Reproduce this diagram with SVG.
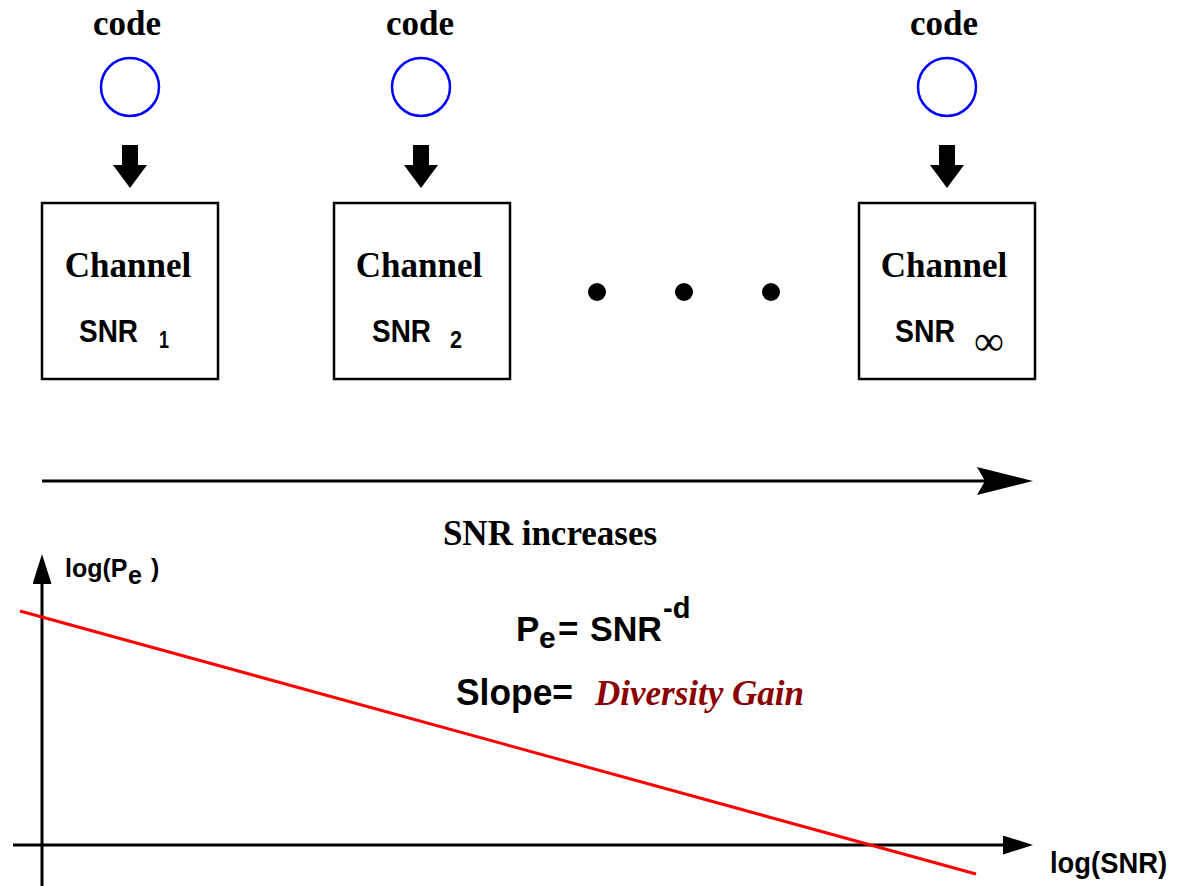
<svg xmlns="http://www.w3.org/2000/svg" width="1178" height="886" viewBox="0 0 1178 886">
<style>
.serif{font-family:"Liberation Serif","Times New Roman",serif;font-weight:bold;font-size:35px;fill:#000}
.sans{font-family:"Liberation Sans",Arial,sans-serif;font-weight:bold;fill:#000}
.box{fill:#fff;stroke:#000;stroke-width:2.5}
.code{fill:none;stroke:#0000ff;stroke-width:2.5}
.blk{fill:#000;stroke:none}
.ln{stroke:#000;stroke-width:3;fill:none}
</style>
<defs>
<marker id="big" markerUnits="userSpaceOnUse" markerWidth="56" markerHeight="28" viewBox="0 0 56 28" refX="13" refY="14" orient="auto">
<path d="M0,0 L56,14 L0,28 L8,14 Z" fill="#000"/>
</marker>
<marker id="axis" markerUnits="userSpaceOnUse" markerWidth="30" markerHeight="19" viewBox="0 0 30 19" refX="10" refY="9.5" orient="auto">
<path d="M0,0 L30,9.5 L0,19 Z" fill="#000"/>
</marker>
<path id="down" d="M-8,0 H8 V20 H17 L0,43 L-17,20 H-8 Z"/>
</defs>

<g id="code1">
<text class="serif" x="127" y="35" text-anchor="middle">code</text>
<circle class="code" cx="130" cy="87" r="29"/>
</g>
<g id="code2">
<text class="serif" x="420" y="35" text-anchor="middle">code</text>
<circle class="code" cx="421" cy="87" r="29"/>
</g>
<g id="code3">
<text class="serif" x="944" y="35" text-anchor="middle">code</text>
<circle class="code" cx="947" cy="87" r="29"/>
</g>

<g id="channel1">
<rect class="box" x="42" y="203" width="176" height="176"/>
<text class="serif" x="128" y="277" text-anchor="middle">Channel</text>
<text class="sans" x="79" y="342" font-size="32" textLength="59" lengthAdjust="spacingAndGlyphs">SNR</text>
<text class="sans" x="159" y="348" font-size="24" textLength="10" lengthAdjust="spacingAndGlyphs">1</text>
</g>
<g id="channel2">
<rect class="box" x="334" y="203" width="176" height="176"/>
<text class="serif" x="419" y="277" text-anchor="middle">Channel</text>
<text class="sans" x="372" y="342" font-size="32" textLength="59" lengthAdjust="spacingAndGlyphs">SNR</text>
<text class="sans" x="450" y="348" font-size="24" textLength="12" lengthAdjust="spacingAndGlyphs">2</text>
</g>
<g id="channel3">
<rect class="box" x="859" y="203" width="176" height="176"/>
<text class="serif" x="944" y="277" text-anchor="middle">Channel</text>
<text class="sans" x="895" y="342" font-size="32" textLength="60" lengthAdjust="spacingAndGlyphs">SNR</text>
<text x="974" y="355" font-family="Liberation Serif, serif" font-size="42" fill="#000">∞</text>
</g>

<g id="ellipsis">
<circle cx="597" cy="292" r="9" class="blk"/>
<circle cx="684" cy="292" r="9" class="blk"/>
<circle cx="771" cy="292" r="9" class="blk"/>
</g>

<g id="connectors">
<use href="#down" x="130" y="145" class="blk"/>
<use href="#down" x="421" y="145" class="blk"/>
<use href="#down" x="947" y="145" class="blk"/>
<line class="ln" x1="42" y1="481" x2="990" y2="481" marker-end="url(#big)"/>
<line class="ln" x1="42" y1="886" x2="42" y2="574" marker-end="url(#axis)"/>
<line class="ln" x1="13" y1="845" x2="1013" y2="845" marker-end="url(#axis)"/>
<line x1="20" y1="611" x2="976" y2="874" stroke="#ff0000" stroke-width="3"/>
</g>

<g id="labels">
<text class="sans" x="65" y="577" font-size="25">log(P<tspan x="128" y="584">e</tspan><tspan x="151" y="577">)</tspan></text>
<text class="serif" x="550" y="545" text-anchor="middle">SNR increases</text>
<text class="sans" x="516" y="641" font-size="35"><tspan>P</tspan><tspan x="539" y="648" font-size="30">e</tspan><tspan x="558" y="641">=</tspan><tspan x="590" textLength="72" lengthAdjust="spacingAndGlyphs">SNR</tspan><tspan x="663" y="618" font-size="29">-d</tspan></text>
<text class="sans" x="456" y="705" font-size="36" textLength="117" lengthAdjust="spacingAndGlyphs">Slope=</text>
<text x="595" y="705" font-family="Liberation Serif, serif" font-weight="bold" font-style="italic" font-size="35" fill="#8b0000">Diversity Gain</text>
<text class="sans" x="1050" y="873" font-size="29" textLength="117" lengthAdjust="spacingAndGlyphs">log(SNR)</text>
</g>
</svg>
